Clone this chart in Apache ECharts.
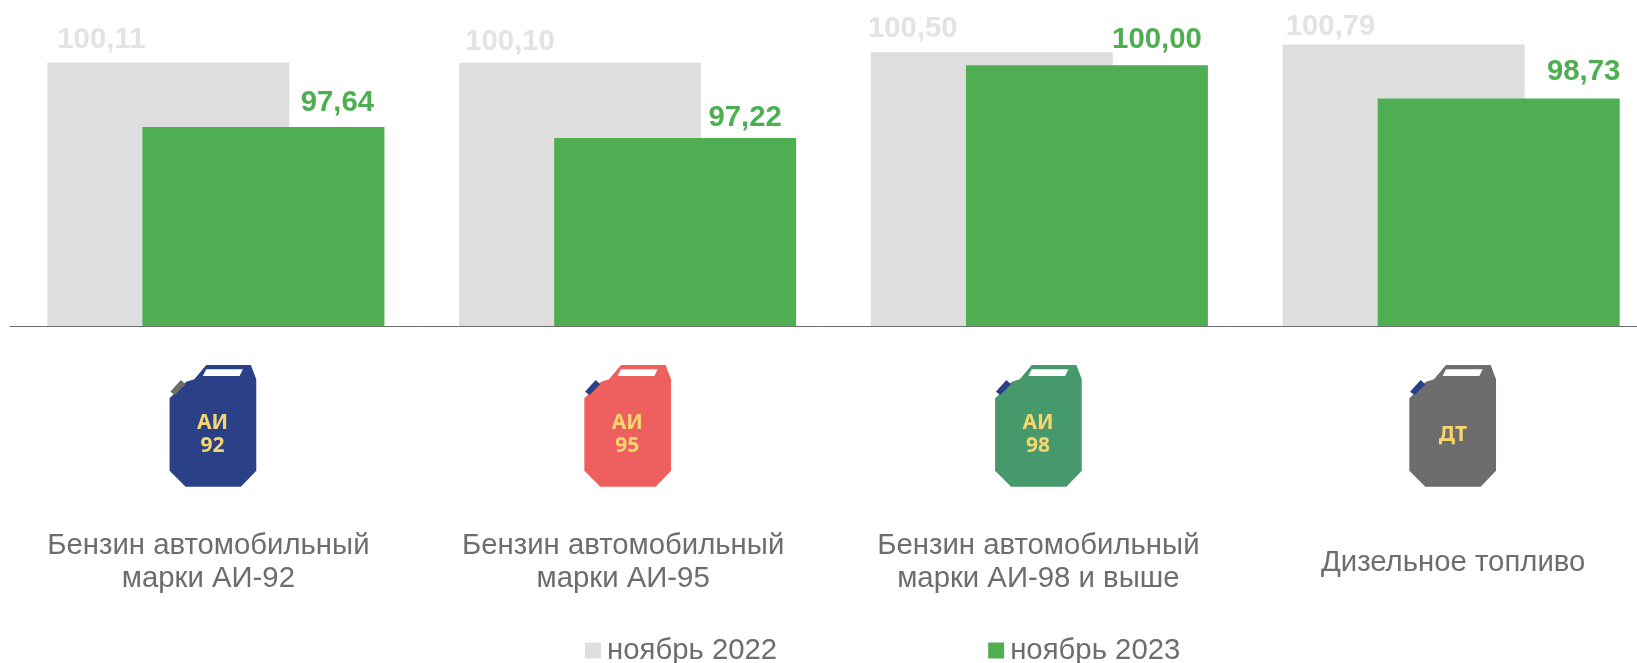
<!DOCTYPE html>
<html><head><meta charset="utf-8">
<style>html,body{margin:0;padding:0;background:#fff}#c{width:1637px;height:663px}</style>
<script src="https://cdn.jsdelivr.net/npm/echarts@6/dist/echarts.min.js"></script>
</head><body><div id="c"></div>
<script>
const categories = ['Бензин автомобильный\nмарки АИ-92','Бензин автомобильный\nмарки АИ-95','Бензин автомобильный\nмарки АИ-98 и выше','Дизельное топливо'];
const nov2022 = [100.11,100.10,100.50,100.79];
const nov2023 = [97.64,97.22,100.00,98.73];
const seriesNames = ['ноябрь 2022','ноябрь 2023'];
const iconLabels = [['АИ','92'],['АИ','95'],['АИ','98'],['ДТ']];
const iconColors = ['#2A4188','#EE5F5F','#46996A','#6D6D6D'];
const capColors = ['#6D6D6D','#2A4188','#2A4188','#2A4188'];
// layout tweaks (label displacement, px)
const shift2022 = [[-67,-8],[-70,-6],[-79,-9],[-73,-3]];
const shift2023 = [[74,-9],[70,-5],[70,-11],[85,-12]];
const iconShift = [-3,0,-1,1.5];
const catLabelShift = [-7.5,-4.5,-1,2];
const catLabelDrop = [0,0,0,16.5];

const fmt = v => v.toFixed(2).replace('.',',');
const F = '"Liberation Sans", Arial, sans-serif';
const mk = (vals, shifts, color) => vals.map((v,i)=>({value:v,label:{offset:shifts[i],color}}));
const BODY='M36.7 0L81.3 0L86.7 14.3L86.7 105.7L71.3 121.7L16 121.7L0 105.7L0 33.3L16.7 16.7L24.7 14.3Z';
const HOLE='M36.7 4.3L73.3 4.3L70 11L33.3 11Z';
const CAP='M0.7 26.7L11.3 15L16 19.3L5.3 30Z';

const chart = echarts.init(document.getElementById('c'),null,{renderer:'canvas'});
chart.setOption({
  animation:false,
  backgroundColor:'#fff',
  grid:{left:10,top:13,width:1647,height:313.5,outerBoundsMode:'none'},
  legend:{
    data:seriesNames,left:580,top:631,itemWidth:16,itemHeight:16,itemGap:211,
    icon:'rect',itemStyle:{borderWidth:0},
    textStyle:{fontFamily:F,fontSize:29.33,color:'#6D6D6D',padding:[0,0,0,1]}
  },
  xAxis:{type:'category',z:5,
    data:categories.map((c,i)=>({value:c,textStyle:{padding:[catLabelDrop[i],Math.max(0,-2*catLabelShift[i]),0,Math.max(0,2*catLabelShift[i])]}})),
    axisLine:{lineStyle:{color:'#6D6D6D',width:1}},axisTick:{show:false},
    axisLabel:{interval:0,margin:203,verticalAlign:'middle',lineHeight:33,fontFamily:F,fontSize:29.33,color:'#6D6D6D',
      formatter:(v)=>v}
  },
  yAxis:{type:'value',min:90,max:102,show:false,splitLine:{show:false}},
  series:[
    {name:seriesNames[0],type:'bar',data:mk(nov2022,shift2022,'#E3E3E3'),barWidth:242,barGap:'-60.7%',
     itemStyle:{color:'#DEDEDE'},
     label:{show:true,position:'top',distance:0,fontFamily:F,fontWeight:'bold',fontSize:29.33,formatter:p=>fmt(p.value)}},
    {name:seriesNames[1],type:'bar',data:mk(nov2023,shift2023,'#4FAE52'),barWidth:242,
     itemStyle:{color:'#50AE52'},
     label:{show:true,position:'top',distance:0,fontFamily:F,fontWeight:'bold',fontSize:29.33,formatter:p=>fmt(p.value)}},
    {type:'custom',clip:false,silent:true,data:categories.map((c,i)=>[i,90]),
     encode:{x:0,y:1},
     renderItem:(params,api)=>{
       const i=api.value(0), p=api.coord([i,90]);
       const labs=iconLabels[i];
       const lines=labs.length===2?[[43,58.5],[43,81]]:[[43.7,70]];
       return {type:'group',x:p[0]-43.3+iconShift[i],y:p[1]+38.5,children:[
         {type:'path',shape:{pathData:BODY,layout:'cover',x:0,y:0,width:86.7,height:121.7},style:{fill:iconColors[i]}},
         {type:'path',shape:{pathData:CAP,layout:'cover',x:0.7,y:15,width:15.3,height:15},style:{fill:capColors[i]}},
         {type:'path',shape:{pathData:HOLE,layout:'cover',x:33.3,y:4.3,width:40,height:6.7},style:{fill:'#fff'}},
         ...labs.map((t,k)=>({type:'text',x:lines[k][0],y:lines[k][1],style:{text:t,align:'center',verticalAlign:'middle',
            fontFamily:'"Noto Sans", sans-serif',fontWeight:700,fontSize:21,fill:'#F9D56E'}}))
       ]};
     }}
  ]
});
</script></body></html>
